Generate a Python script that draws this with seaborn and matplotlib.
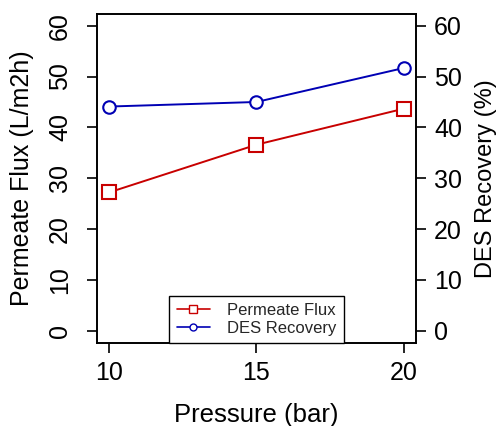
import matplotlib
matplotlib.use("Agg")
import matplotlib.pyplot as plt
import seaborn as sns
import pandas as pd
from matplotlib.lines import Line2D

pressure = [10, 15, 20]
permeate_flux = [27.2, 36.6, 43.7]
des_recovery = [44.1, 45.0, 51.7]
y_ticks = [0, 10, 20, 30, 40, 50, 60]
x_ticks = [10, 15, 20]

df = pd.DataFrame({"Pressure": pressure, "Flux": permeate_flux, "Recovery": des_recovery})

sns.set_theme(style="ticks")
plt.rcParams["font.family"] = ["Liberation Sans", "DejaVu Sans"]

red = "#C80000"
blue = "#0000B4"

fig = plt.figure(figsize=(4.99, 4.26), dpi=100)
ax = fig.add_axes([97 / 499, 1 - 343 / 426, (416 - 97) / 499, (343 - 13.5) / 426])
ax2 = ax.twinx()

sns.lineplot(data=df, x="Pressure", y="Flux", ax=ax, color=red, lw=1.4,
             marker="s", markersize=10, markerfacecolor="white",
             markeredgecolor=red, markeredgewidth=1.5, label="Permeate Flux", legend=False)
sns.lineplot(data=df, x="Pressure", y="Recovery", ax=ax2, color=blue, lw=1.4,
             marker="o", markersize=9, markerfacecolor="white",
             markeredgecolor=blue, markeredgewidth=1.5, label="DES Recovery", legend=False)

for a in (ax, ax2):
    a.set_ylim(-2.4, 62.4)
    a.set_xlim(9.6, 20.4)
    a.set_yticks(y_ticks)
    for s in a.spines.values():
        s.set_color("black")
        s.set_linewidth(1.2)

ax.set_xticks(x_ticks)
ax.tick_params(axis="x", direction="out", length=7, width=1.2, pad=6, labelsize=18, colors="black")
ax.tick_params(axis="y", direction="out", length=7, width=1.2, pad=11, labelsize=18, colors="black")
for lbl in ax.get_yticklabels():
    lbl.set_rotation(90)
    lbl.set_va("center")
ax2.tick_params(axis="y", direction="out", length=7, width=1.2, pad=6, labelsize=18, colors="black")

ax.set_xlabel("Pressure (bar)", fontsize=18.5, color="black", labelpad=13)
ax.set_ylabel("Permeate Flux (L/m2h)", fontsize=18, color="black", labelpad=10)
ax2.set_ylabel("DES Recovery (%)", fontsize=17, color="black", labelpad=9)

handles = [
    Line2D([], [], color=red, lw=1.2, marker="s", markersize=6, markerfacecolor="white", markeredgecolor=red),
    Line2D([], [], color=blue, lw=1.2, marker="o", markersize=5, markerfacecolor="white", markeredgecolor=blue),
]
leg = ax2.legend(handles, ["Permeate Flux", "DES Recovery"], loc="lower center",
                 bbox_to_anchor=(0.5, 0), borderaxespad=0, fontsize=12, frameon=True,
                 fancybox=False, edgecolor="black", framealpha=1, handlelength=2,
                 handletextpad=1.0, labelspacing=0.15, borderpad=0.45)
leg.get_frame().set_linewidth(1.0)

fig.savefig("out.png", dpi=100)
